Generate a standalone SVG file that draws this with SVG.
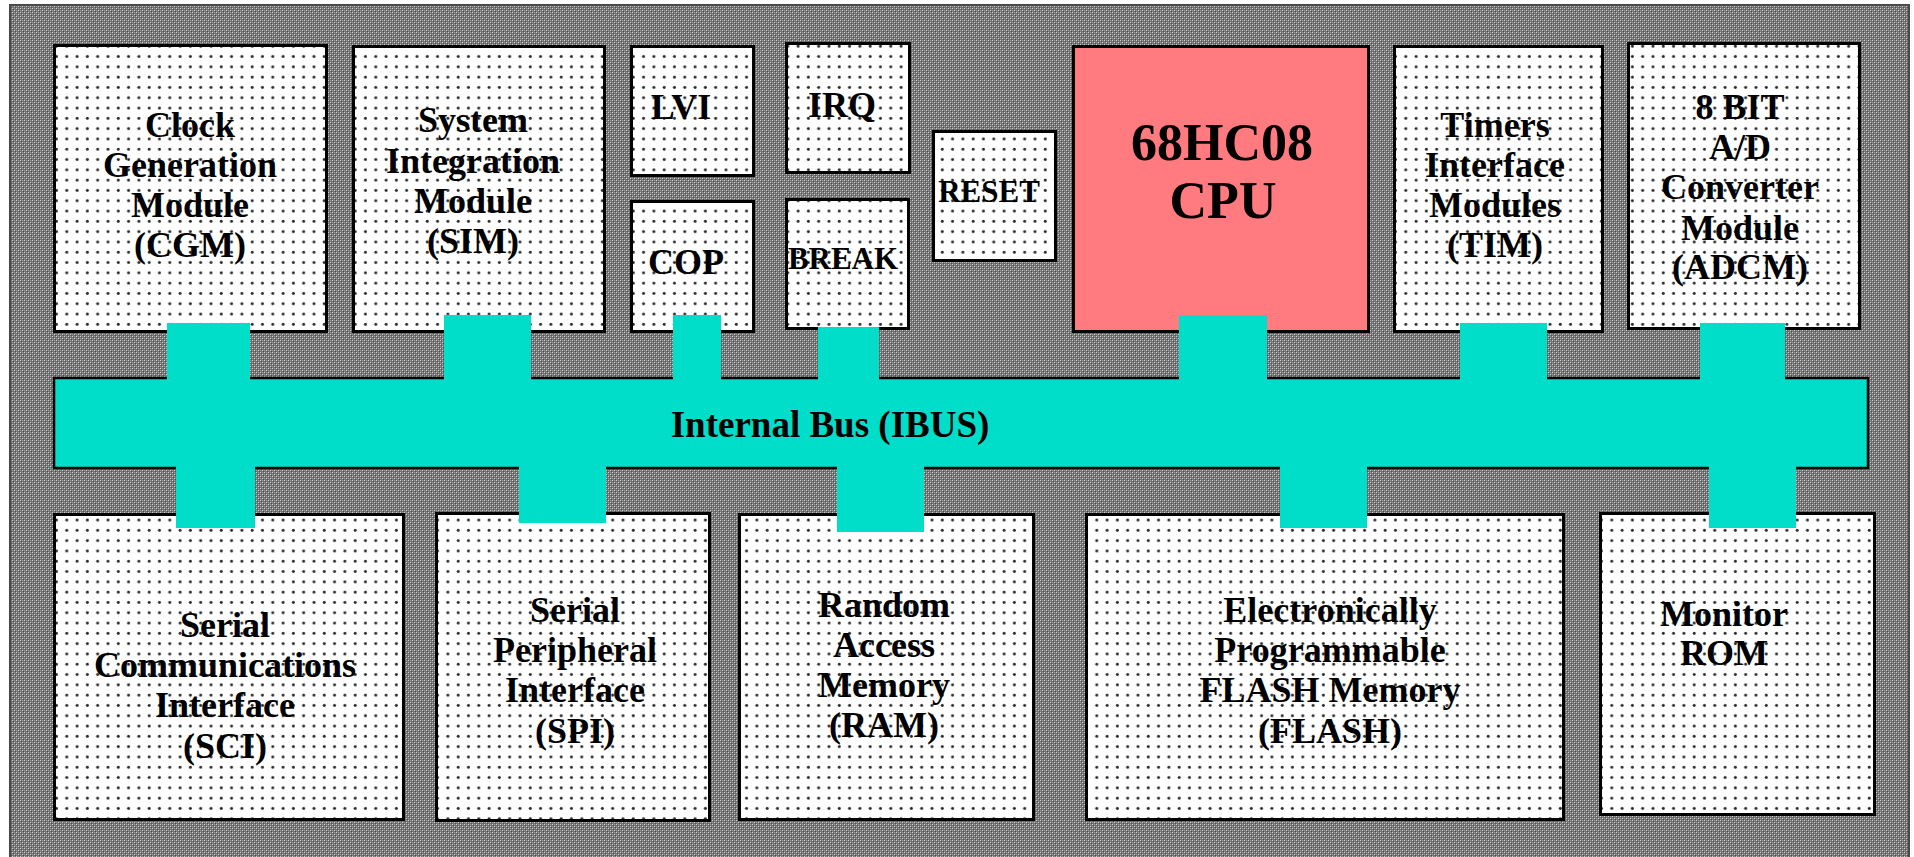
<svg xmlns="http://www.w3.org/2000/svg" width="1914" height="857" viewBox="0 0 1914 857">
<defs>
<pattern id="dither" x="0" y="0" width="4" height="4" patternUnits="userSpaceOnUse">
<rect width="4" height="4" fill="#747474"/>
<rect x="0" y="0" width="1" height="1" fill="#d0d0d0"/>
<rect x="2" y="2" width="1" height="1" fill="#d0d0d0"/>
<rect x="2" y="0" width="1" height="1" fill="#959595"/>
<rect x="0" y="2" width="1" height="1" fill="#959595"/>
<rect x="1" y="1" width="1" height="1" fill="#505050"/>
<rect x="3" y="3" width="1" height="1" fill="#505050"/>
</pattern>
<pattern id="dots" x="0" y="0" width="10.3" height="10.3" patternUnits="userSpaceOnUse">
<rect width="10.3" height="10.3" fill="#ffffff"/>
<circle cx="5" cy="5" r="1.5" fill="#2a2a2a"/>
</pattern>
</defs>
<style>
.box{fill:url(#dots);stroke:#000;stroke-width:3}
.cpu{fill:#ff7b80;stroke:#000;stroke-width:3}
.bus{fill:#00ddc8;stroke:#000;stroke-width:2.5}
.con{fill:#00ddc8;stroke:none}
.t{font-family:"Liberation Serif","Times New Roman",serif;font-weight:bold;font-size:36px;fill:#000;text-anchor:middle}
.s{font-size:31px}
.big{font-size:52px}
</style>
<rect x="0" y="0" width="1914" height="857" fill="#ffffff"/>
<rect id="frame" x="10" y="5" width="1899" height="860" fill="url(#dither)" stroke="#4a4a4a" stroke-width="2"/>

<g id="cgm"><rect class="box" x="54.5" y="45.5" width="272" height="286"/>
<text class="t" x="190" y="137">Clock</text><text class="t" x="190" y="177">Generation</text><text class="t" x="190" y="217">Module</text><text class="t" x="190" y="257">(CGM)</text></g>

<g id="sim"><rect class="box" x="353.5" y="46.5" width="251" height="285"/>
<text class="t" x="473" y="132">System</text><text class="t" x="473" y="173">Integration</text><text class="t" x="473" y="213">Module</text><text class="t" x="473" y="253">(SIM)</text></g>

<g id="lvi"><rect class="box" x="631.5" y="46.5" width="122" height="129"/>
<text class="t" x="681" y="119">LVI</text></g>

<g id="irq"><rect class="box" x="786.5" y="43.5" width="123" height="129"/>
<text class="t" x="842" y="117">IRQ</text></g>

<g id="cop"><rect class="box" x="631.5" y="201.5" width="122" height="130"/>
<text class="t" x="686" y="274">COP</text></g>

<g id="break"><rect class="box" x="786.5" y="199.5" width="122" height="129"/>
<text class="t s" x="843" y="269">BREAK</text></g>

<g id="reset"><rect class="box" x="933.5" y="131.5" width="122" height="129"/>
<text class="t s" x="989" y="202">RESET</text></g>

<g id="cpu"><rect class="cpu" x="1073.5" y="46.5" width="295" height="285"/>
<text class="t big" x="1222" y="160">68HC08</text><text class="t big" x="1223" y="218">CPU</text></g>

<g id="tim"><rect class="box" x="1394.5" y="46.5" width="208" height="285"/>
<text class="t" x="1495" y="137">Timers</text><text class="t" x="1495" y="177">Interface</text><text class="t" x="1495" y="217">Modules</text><text class="t" x="1495" y="257">(TIM)</text></g>

<g id="adcm"><rect class="box" x="1628.5" y="43.5" width="231" height="285"/>
<text class="t" x="1740" y="119">8 BIT</text><text class="t" x="1740" y="159">A/D</text><text class="t" x="1740" y="199">Converter</text><text class="t" x="1740" y="240">Module</text><text class="t" x="1740" y="279">(ADCM)</text></g>

<g id="sci"><rect class="box" x="54.5" y="514.5" width="349" height="305"/>
<text class="t" x="225" y="637">Serial</text><text class="t" x="225" y="677">Communications</text><text class="t" x="225" y="717">Interface</text><text class="t" x="225" y="758">(SCI)</text></g>

<g id="spi"><rect class="box" x="436.5" y="513.5" width="273" height="307"/>
<text class="t" x="575" y="622">Serial</text><text class="t" x="575" y="662">Peripheral</text><text class="t" x="575" y="702">Interface</text><text class="t" x="575" y="743">(SPI)</text></g>

<g id="ram"><rect class="box" x="739.5" y="514.5" width="294" height="305"/>
<text class="t" x="884" y="617">Random</text><text class="t" x="884" y="657">Access</text><text class="t" x="884" y="697">Memory</text><text class="t" x="884" y="737">(RAM)</text></g>

<g id="flash"><rect class="box" x="1086.5" y="514.5" width="477" height="305"/>
<text class="t" x="1330" y="622">Electronically</text><text class="t" x="1330" y="662">Programmable</text><text class="t" x="1330" y="702">FLASH Memory</text><text class="t" x="1330" y="743">(FLASH)</text></g>

<g id="rom"><rect class="box" x="1600.5" y="513.5" width="274" height="301"/>
<text class="t" x="1724" y="626">Monitor</text><text class="t" x="1724" y="665">ROM</text></g>

<g id="ibus"><rect class="bus" x="54" y="378" width="1814" height="90"/>
<text class="t" x="830" y="437" style="font-size:37px">Internal Bus (IBUS)</text></g>

<g id="connectors">
<rect class="con" x="167" y="323" width="83" height="57"/>
<rect class="con" x="444" y="315" width="87" height="65"/>
<rect class="con" x="673" y="315" width="48" height="65"/>
<rect class="con" x="818" y="327" width="61" height="53"/>
<rect class="con" x="1179" y="315" width="88" height="65"/>
<rect class="con" x="1460" y="323" width="87" height="57"/>
<rect class="con" x="1700" y="323" width="85" height="57"/>
<rect class="con" x="176" y="466" width="79" height="62"/>
<rect class="con" x="519" y="466" width="87" height="57"/>
<rect class="con" x="837" y="466" width="87" height="66"/>
<rect class="con" x="1280" y="466" width="87" height="62"/>
<rect class="con" x="1709" y="466" width="87" height="62"/>
</g>
</svg>
